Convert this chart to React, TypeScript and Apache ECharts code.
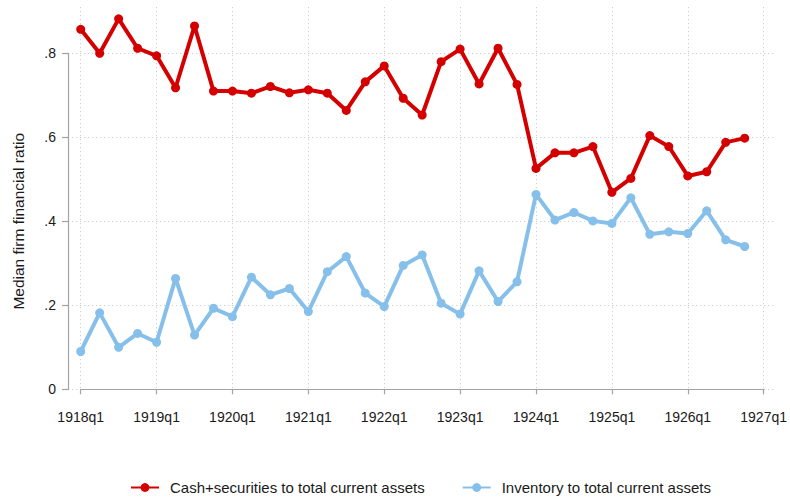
import React, { useEffect, useRef } from "react";
import * as echarts from "echarts";

// ---- data ----
const cashSecurities = [
  0.857, 0.8, 0.882, 0.812, 0.794, 0.718, 0.865, 0.71, 0.71, 0.705, 0.721, 0.706,
  0.713, 0.705, 0.664, 0.732, 0.77, 0.693, 0.653, 0.78, 0.81, 0.727, 0.812, 0.726,
  0.526, 0.563, 0.563, 0.578, 0.469, 0.502, 0.604, 0.578, 0.508, 0.518, 0.588, 0.598,
];
const inventory = [
  0.09, 0.182, 0.1, 0.133, 0.112, 0.264, 0.129, 0.193, 0.173, 0.267, 0.225, 0.24,
  0.185, 0.28, 0.316, 0.229, 0.197, 0.295, 0.32, 0.205, 0.179, 0.282, 0.209, 0.256,
  0.464, 0.403, 0.421, 0.401, 0.395, 0.456, 0.369, 0.375, 0.371, 0.425, 0.356, 0.34,
];
const xTickValues = [0, 4, 8, 12, 16, 20, 24, 28, 32, 36];
const xTickLabels = [
  "1918q1", "1919q1", "1920q1", "1921q1", "1922q1",
  "1923q1", "1924q1", "1925q1", "1926q1", "1927q1",
];
const yTickValues = [0, 0.2, 0.4, 0.6, 0.8];
const yTickLabels = ["0", ".2", ".4", ".6", ".8"];
const seriesNames = [
  "Cash+securities to total current assets",
  "Inventory to total current assets",
];
const seriesColors = ["#d40000", "#86c0ea"];

// ---- layout (pixels) ----
const W = 790;
const H = 500;
const PLOT_LEFT = 68;
const PLOT_RIGHT = 775;
const PLOT_TOP = 7;
const PLOT_BOTTOM = 393;
const X_FIRST = 80.7; // pixel of first x tick
const X_LAST = 764.7; // pixel of last x tick
const Y_ZERO = 389.3; // pixel of y = 0
const Y_TOP = 53.3; // pixel of y = 0.8

const FONT = "'Liberation Sans', Arial, Helvetica, sans-serif";
const TEXT = "#1a1a1a";
const AXIS = "#a3a3a3";
const GRID = "#cfcfcf";

export default function App() {
  const ref = useRef<HTMLDivElement>(null);

  useEffect(() => {
    if (!ref.current) return;
    const chart = echarts.init(ref.current, undefined, { renderer: "svg" });

    const yMaxTick = yTickValues[yTickValues.length - 1];
    const pxPerUnit = (Y_ZERO - Y_TOP) / yMaxTick;
    const dataYMin = -(PLOT_BOTTOM - Y_ZERO) / pxPerUnit;
    const dataYMax = (Y_ZERO - PLOT_TOP) / pxPerUnit;

    const labelFor = (v: number, values: number[], labels: string[]) => {
      const i = values.findIndex((t) => Math.abs(t - v) < 1e-6);
      return i >= 0 ? labels[i] : "";
    };

    const mkSeries = (name: string, vals: number[], color: string) => ({
      name,
      type: "line",
      xAxisIndex: 1,
      yAxisIndex: 1,
      data: vals.map((v, i) => [i, v]),
      symbol: "circle",
      symbolSize: 9,
      showSymbol: true,
      clip: false,
      lineStyle: { width: 4, color },
      itemStyle: { color },
      emphasis: { disabled: true },
    });

    chart.setOption({
      animation: false,
      backgroundColor: "#ffffff",
      textStyle: { fontFamily: FONT },
      grid: [
        {
          left: PLOT_LEFT,
          right: W - PLOT_RIGHT,
          top: Y_TOP,
          bottom: H - Y_ZERO,
          containLabel: false,
        },
        {
          left: X_FIRST,
          right: W - X_LAST,
          top: PLOT_TOP,
          bottom: H - PLOT_BOTTOM,
          containLabel: false,
        },
      ],
      xAxis: [
        { gridIndex: 0, type: "value", min: 0, max: 1, show: false },
        {
          gridIndex: 1,
          type: "value",
          min: xTickValues[0],
          max: xTickValues[xTickValues.length - 1],
          interval: xTickValues[1] - xTickValues[0],
          position: "bottom",
          offset: 9,
          axisLine: { show: true, lineStyle: { color: AXIS, width: 1.2 } },
          axisTick: { show: true, inside: false, length: 5, lineStyle: { color: AXIS, width: 1.2 } },
          axisLabel: {
            show: true,
            margin: 8,
            fontSize: 14,
            color: TEXT,
            fontFamily: FONT,
            showMinLabel: true,
            showMaxLabel: true,
            formatter: (v: number) => labelFor(v, xTickValues, xTickLabels),
          },
          splitLine: {
            show: true,
            lineStyle: { color: GRID, width: 1, type: [1.2, 2.8] },
          },
        },
      ],
      yAxis: [
        {
          gridIndex: 0,
          type: "value",
          min: yTickValues[0],
          max: yMaxTick,
          interval: yTickValues[1] - yTickValues[0],
          axisLine: { show: true, lineStyle: { color: AXIS, width: 1.2 } },
          axisTick: { show: true, inside: false, length: 6, lineStyle: { color: AXIS, width: 1.2 } },
          axisLabel: {
            show: true,
            margin: 12,
            fontSize: 14,
            color: TEXT,
            fontFamily: FONT,
            formatter: (v: number) => labelFor(v, yTickValues, yTickLabels),
          },
          splitLine: {
            show: true,
            lineStyle: { color: GRID, width: 1, type: [1.2, 2.8] },
          },
          name: "Median firm financial ratio",
          nameLocation: "middle",
          nameGap: 42,
          nameTextStyle: { fontSize: 15.5, color: TEXT, fontFamily: FONT },
        },
        {
          gridIndex: 1,
          type: "value",
          min: dataYMin,
          max: dataYMax,
          show: false,
          splitLine: { show: false },
        },
      ],
      legend: {
        show: true,
        left: 125,
        top: 475,
        itemWidth: 28,
        itemHeight: 11,
        itemGap: 37,
        textStyle: {
          fontSize: 15,
          color: TEXT,
          fontFamily: FONT,
          padding: [0, 0, 0, 6],
        },
        data: seriesNames,
      },
      series: [
        mkSeries(seriesNames[0], cashSecurities, seriesColors[0]),
        mkSeries(seriesNames[1], inventory, seriesColors[1]),
      ],
    });

    return () => chart.dispose();
  }, []);

  return (
    <div
      ref={ref}
      style={{ position: "fixed", left: 0, top: 0, width: W, height: H, background: "#fff" }}
    />
  );
}
